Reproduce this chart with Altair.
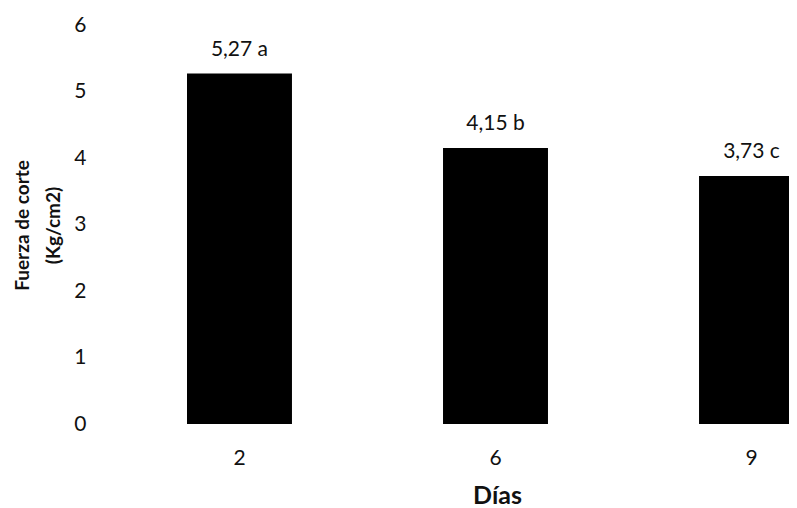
import altair as alt
import pandas as pd

dias = ["2", "6", "9"]
fuerza = [5.27, 4.15, 3.73]
letras = ["a", "b", "c"]

etiquetas = [f"{v:.2f}".replace(".", ",") + " " + l for v, l in zip(fuerza, letras)]
df = pd.DataFrame({"dia": dias, "fuerza": fuerza, "etiqueta": etiquetas})

FONT = "Lato"

x_enc = alt.X(
    "dia:N",
    sort=dias,
    scale=alt.Scale(range=[87, 704], paddingInner=0.59, paddingOuter=0),
    axis=alt.Axis(
        title="Días",
        titleFont=FONT,
        titleFontSize=25,
        titleFontWeight="bold",
        titleColor="#111",
        titleX=397,
        titleY=71,
        titleBaseline="middle",
        labelAngle=0,
        labelFont=FONT,
        labelFontSize=21,
        labelColor="#111",
        labelPadding=23,
        ticks=False,
        domain=False,
        grid=False,
    ),
)

y_enc = alt.Y(
    "fuerza:Q",
    scale=alt.Scale(domain=[0, 6], nice=False),
    axis=alt.Axis(
        title=["Fuerza de corte", "(Kg/cm2)"],
        titleFont=FONT,
        titleFontSize=19,
        titleFontWeight="bold",
        titleColor="#111",
        titleAngle=-90,
        titleX=-78,
        titleY=200,
        titleAlign="center",
        titleBaseline="middle",
        titleLineHeight=31,
        values=[0, 1, 2, 3, 4, 5, 6],
        format="d",
        labelFont=FONT,
        labelFontSize=21,
        labelColor="#111",
        labelPadding=14,
        ticks=False,
        domain=False,
        grid=False,
    ),
)

bars = alt.Chart(df).mark_bar(color="#000000", clip=True).encode(x=x_enc, y=y_enc)

texts = alt.Chart(df).mark_text(
    font=FONT, fontSize=21, color="#111", baseline="alphabetic", dy=-18
).encode(x=alt.X("dia:N", sort=dias), y="fuerza:Q", text="etiqueta:N")

chart = (
    alt.layer(bars, texts)
    .properties(
        width=689,
        height=399,
        autosize=alt.AutoSizeParams(type="none"),
        padding={"left": 92, "top": 17, "right": 0, "bottom": 84},
    )
    .configure_view(stroke=None)
)

chart.save("out.html", embed_options={"renderer": "svg", "actions": False})
